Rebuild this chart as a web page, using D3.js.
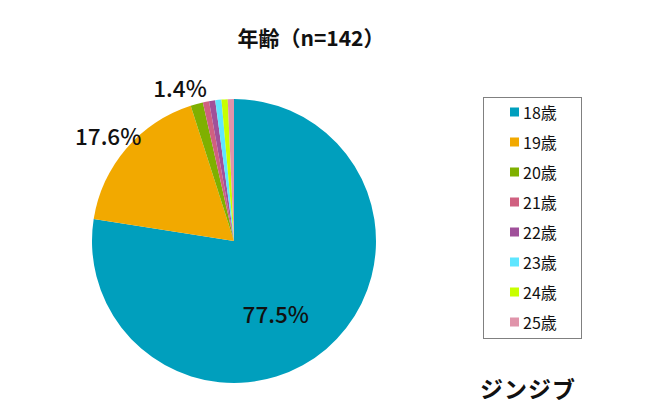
<!DOCTYPE html>
<html><head><meta charset="utf-8">
<script src="https://cdn.jsdelivr.net/npm/d3@7"></script>
<style>
body{margin:0;background:#fff;}
text{font-family:"Noto Sans CJK JP","Noto Sans",sans-serif;}
</style></head>
<body><svg id="c" width="650" height="415"></svg>
<script>
const categories = ["18歳","19歳","20歳","21歳","22歳","23歳","24歳","25歳"];
const counts = [110, 25, 2, 1, 1, 1, 1, 1];
const percentLabels = ["77.5%","17.6%","1.4%","","","","",""];
const colors = ["#009fbd","#f2a900","#7fb000","#d06080","#a0509a","#5ee6ff","#c8ff00","#e094aa"];
const title = "年齢（n=142）";
const brand = "ジンジブ";

const svg = d3.select("#c");
const cx = 234, cy = 241, R = 142;
const color = d3.scaleOrdinal().domain(categories).range(colors);
const pie = d3.pie().sort(null).value(d => d.v);
const data = categories.map((c,i)=>({c, v:counts[i], l:percentLabels[i]}));
const arcs = pie(data);
const arc = d3.arc().innerRadius(0).outerRadius(R);
const g = svg.append("g").attr("transform",`translate(${cx},${cy})`);
g.selectAll("path").data(arcs).join("path")
  .attr("d", arc).attr("fill", d=>color(d.data.c));

// labels
const labelR = [95, 163, 160];
const labelDx = [-20, -2, -12];
arcs.forEach((a,i)=>{
  if(!a.data.l) return;
  const m = (a.startAngle + a.endAngle)/2;
  const r = labelR[i];
  g.append("text")
    .attr("x", Math.sin(m)*r + labelDx[i])
    .attr("y", -Math.cos(m)*r)
    .attr("text-anchor","middle").attr("dominant-baseline","central")
    .attr("font-size", 22.5).attr("font-weight", 500).attr("fill","#111")
    .text(a.data.l);
});

svg.append("text").attr("x",311).attr("y",37).attr("text-anchor","middle")
  .attr("dominant-baseline","central").attr("font-size",21).attr("font-weight",700)
  .attr("fill","#111").text(title);

// legend
const lg = svg.append("g");
lg.append("rect").attr("x",483.5).attr("y",97.5).attr("width",98).attr("height",241)
  .attr("fill","#fff").attr("stroke","#808080").attr("stroke-width",1);
const ly = d3.scalePoint().domain(categories).range([112,322]);
categories.forEach(c=>{
  lg.append("rect").attr("x",510).attr("y",ly(c)-4.5).attr("width",9).attr("height",9).attr("fill",color(c));
  lg.append("text").attr("x",523).attr("y",ly(c)).attr("dominant-baseline","central")
    .attr("font-size",16).attr("fill","#111").text(c);
});

svg.append("text").attr("x",528).attr("y",388).attr("text-anchor","middle")
  .attr("dominant-baseline","central").attr("font-size",23).attr("font-weight",700)
  .attr("letter-spacing",1).attr("fill","#111").text(brand);
</script></body></html>
